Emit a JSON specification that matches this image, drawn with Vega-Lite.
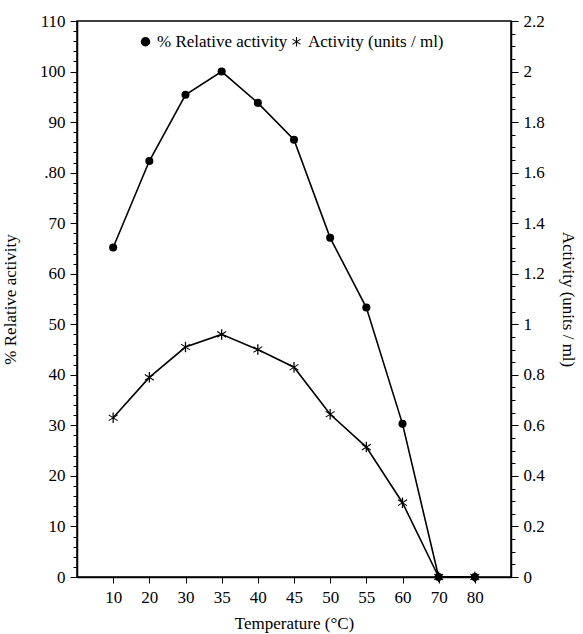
{
  "$schema": "https://vega.github.io/schema/vega-lite/v6.json",
  "autosize": {"type": "none"},
  "padding": {"left": 77, "top": 21, "right": 72, "bottom": 57},
  "width": 434,
  "height": 556,
  "background": "white",
  "config": {
    "font": "Liberation Serif",
    "view": {"stroke": "black", "strokeWidth": 1.5},
    "axis": {"labelFont": "Liberation Serif", "titleFont": "Liberation Serif", "labelFontSize": 17, "titleFontSize": 17, "titleFontWeight": "normal", "labelColor": "black", "titleColor": "black", "domainColor": "black", "tickColor": "black", "tickWidth": 1, "grid": false, "domainWidth": 1.5},
    "legend": {"labelFont": "Liberation Serif", "labelFontSize": 17, "labelColor": "black"}
  },
  "data": {"values": [
    {"temp": 10, "rel": 65.2, "act": 0.63},
    {"temp": 20, "rel": 82.3, "act": 0.79},
    {"temp": 30, "rel": 95.4, "act": 0.91},
    {"temp": 35, "rel": 100, "act": 0.96},
    {"temp": 40, "rel": 93.8, "act": 0.90},
    {"temp": 45, "rel": 86.5, "act": 0.83},
    {"temp": 50, "rel": 67.1, "act": 0.644},
    {"temp": 55, "rel": 53.3, "act": 0.514},
    {"temp": 60, "rel": 30.3, "act": 0.294},
    {"temp": 70, "rel": 0, "act": 0},
    {"temp": 80, "rel": 0, "act": 0}
  ]},
  "layer": [
    {
      "mark": {"type": "line", "color": "black", "strokeWidth": 1.6},
      "encoding": {
        "x": {"field": "temp", "type": "ordinal", "scale": {"type": "point", "padding": 1},
          "axis": {"title": "Temperature (°C)", "orient": "bottom", "labelAngle": 0, "tickSize": 6, "tickColor": "black", "labelPadding": 6, "titlePadding": 10}},
        "y": {"field": "rel", "type": "quantitative", "scale": {"domain": [0, 110], "nice": false},
          "axis": {"title": "% Relative activity", "orient": "left", "values": [0,10,20,30,40,50,60,70,80,90,100,110],
            "labelExpr": "datum.value === 80 ? '.80' : datum.label",
            "ticks": false, "labelPadding": 12, "titlePadding": 20}}
      }
    },
    {
      "mark": {"type": "point", "filled": true, "fill": "black", "stroke": null, "opacity": 1, "size": 65},
      "encoding": {
        "x": {"field": "temp", "type": "ordinal", "scale": {"type": "point", "padding": 1}, "axis": null},
        "y": {"field": "rel", "type": "quantitative", "scale": {"domain": [0, 110], "nice": false}, "axis": null},
        "shape": {"datum": "% Relative activity", "type": "nominal",
          "scale": {"domain": ["% Relative activity", "Activity (units / ml)"], "range": ["circle", "M-0.12,-1L0.12,-1L0.12,1L-0.12,1ZM-0.904,-0.466L-0.796,-0.634L0.904,0.466L0.796,0.634ZM-0.904,0.466L0.796,-0.634L0.904,-0.466L-0.796,0.634Z"]},
          "legend": {"title": null, "orient": "none", "legendX": 60, "legendY": 12, "direction": "horizontal", "symbolFillColor": "black", "symbolStrokeColor": "black", "symbolStrokeWidth": 0, "symbolSize": 90, "columnPadding": 0, "labelOffset": 3}}
      }
    },
    {
      "mark": {"type": "line", "color": "black", "strokeWidth": 1.6},
      "encoding": {
        "x": {"field": "temp", "type": "ordinal", "scale": {"type": "point", "padding": 1}, "axis": null},
        "y": {"field": "act", "type": "quantitative", "scale": {"domain": [0, 2.2], "nice": false},
          "axis": {"title": "Activity (units / ml)", "orient": "right", "values": [0,0.05,0.1,0.15,0.2,0.25,0.3,0.35,0.4,0.45,0.5,0.55,0.6,0.65,0.7,0.75,0.8,0.85,0.9,0.95,1,1.05,1.1,1.15,1.2,1.25,1.3,1.35,1.4,1.45,1.5,1.55,1.6,1.65,1.7,1.75,1.8,1.85,1.9,1.95,2,2.05,2.1,2.15,2.2],
            "labelExpr": "abs(datum.value*5 - round(datum.value*5)) < 0.001 ? format(datum.value, '~g') : ''",
            "tickColor": "black",
            "tickSize": {"condition": {"test": "abs(datum.value*5 - round(datum.value*5)) < 0.001", "value": 7}, "value": 4},
            "labelPadding": 5, "titlePadding": 14}}
      }
    },
    {
      "mark": {"type": "point", "filled": true, "fill": "black", "stroke": null, "opacity": 1, "size": 110},
      "encoding": {
        "x": {"field": "temp", "type": "ordinal", "scale": {"type": "point", "padding": 1}, "axis": null},
        "y": {"field": "act", "type": "quantitative", "scale": {"domain": [0, 2.2], "nice": false}, "axis": null},
        "shape": {"datum": "Activity (units / ml)", "type": "nominal"}
      }
    },
    {
      "mark": {"type": "line", "opacity": 0},
      "encoding": {
        "x": {"field": "temp", "type": "ordinal", "scale": {"type": "point", "padding": 1}, "axis": null},
        "y": {"field": "rel", "type": "quantitative", "scale": {"domain": [0, 110], "nice": false},
          "axis": {"title": null, "orient": "left", "values": [0,2,4,6,8,10,12,14,16,18,20,22,24,26,28,30,32,34,36,38,40,42,44,46,48,50,52,54,56,58,60,62,64,66,68,70,72,74,76,78,80,82,84,86,88,90,92,94,96,98,100,102,104,106,108,110],
            "labels": false, "domain": false, "tickColor": "black", "offset": 0,
            "tickSize": {"condition": {"test": "datum.value % 10 === 0", "value": 7}, "value": 4}}}
      }
    }
  ],
  "resolve": {"scale": {"y": "independent", "x": "independent"}, "axis": {"x": "independent", "y": "independent"}}
}
